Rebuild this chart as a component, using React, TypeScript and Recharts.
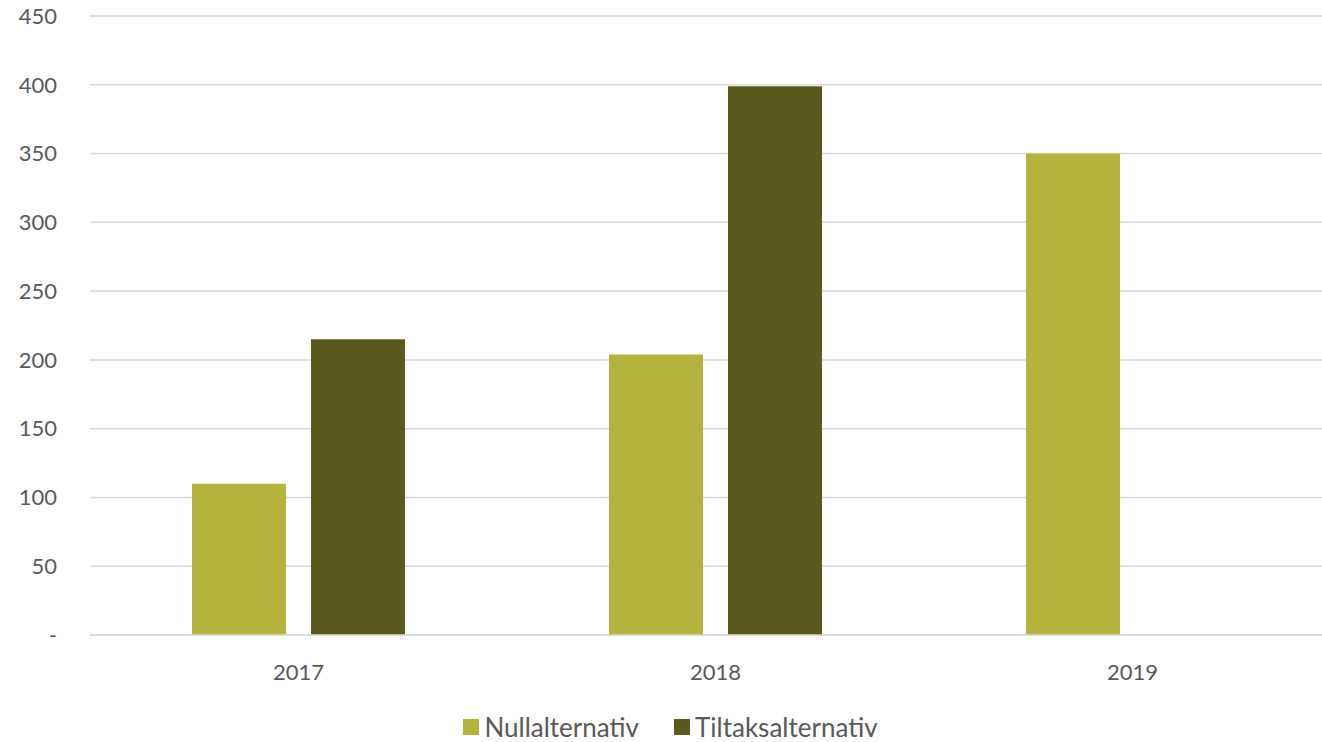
import { BarChart, Bar, XAxis, YAxis, CartesianGrid, Legend } from 'recharts'

const years = ['2017', '2018', '2019']
const nullalternativ = [110, 204, 350]
const tiltaksalternativ: Array<number | null> = [215, 399, null]
const yTicks = [0, 50, 100, 150, 200, 250, 300, 350, 400, 450]

const NULL_COLOR = '#b5b33c'
const TILTAK_COLOR = '#5b5a1e'
const TEXT = '#595959'
const FONT = 'Lato, "Open Sans", sans-serif'

const data = years.map((year, i) => ({
  year,
  Nullalternativ: nullalternativ[i],
  Tiltaksalternativ: tiltaksalternativ[i],
}))

function LegendBox() {
  const items = [
    { name: 'Nullalternativ', color: NULL_COLOR },
    { name: 'Tiltaksalternativ', color: TILTAK_COLOR },
  ]
  return (
    <div style={{ display: 'flex', justifyContent: 'center', gap: 35, paddingTop: 10, fontFamily: FONT, height: 30 }}>
      {items.map((it) => (
        <div key={it.name} style={{ display: 'flex', alignItems: 'center', height: 30 }}>
          <span style={{ width: 16, height: 16, background: it.color, marginRight: 5, display: 'inline-block' }} />
          <span style={{ fontSize: 26, lineHeight: '30px', color: TEXT }}>{it.name}</span>
        </div>
      ))}
    </div>
  )
}

export default function App() {
  return (
    <div style={{ position: 'fixed', left: 0, top: 0, width: 1322, height: 742, overflow: 'hidden', background: '#fff' }}>
      <BarChart
        width={1341}
        height={742}
        data={data}
        margin={{ top: 16, right: 0, bottom: 0, left: 0 }}
        barSize={94}
        barGap={25}
      >
        <CartesianGrid vertical={false} stroke="#d9d9d9" strokeWidth={1.5} />
        <XAxis
          dataKey="year"
          height={67}
          tickSize={0}
          tickMargin={29}
          axisLine={{ stroke: '#d9d9d9', strokeWidth: 1.5 }}
          tick={{ fill: TEXT, fontSize: 22, fontFamily: FONT }}
        />
        <YAxis
          width={90}
          domain={[0, 450]}
          ticks={yTicks}
          interval={0}
          tickSize={0}
          tickMargin={33}
          axisLine={false}
          tickFormatter={(v: number) => (v === 0 ? '-' : String(v))}
          tick={{ fill: TEXT, fontSize: 22, fontFamily: FONT }}
        />
        <Legend verticalAlign="bottom" height={40} content={<LegendBox />} />
        <Bar dataKey="Nullalternativ" fill={NULL_COLOR} isAnimationActive={false} />
        <Bar dataKey="Tiltaksalternativ" fill={TILTAK_COLOR} isAnimationActive={false} />
      </BarChart>
    </div>
  )
}
